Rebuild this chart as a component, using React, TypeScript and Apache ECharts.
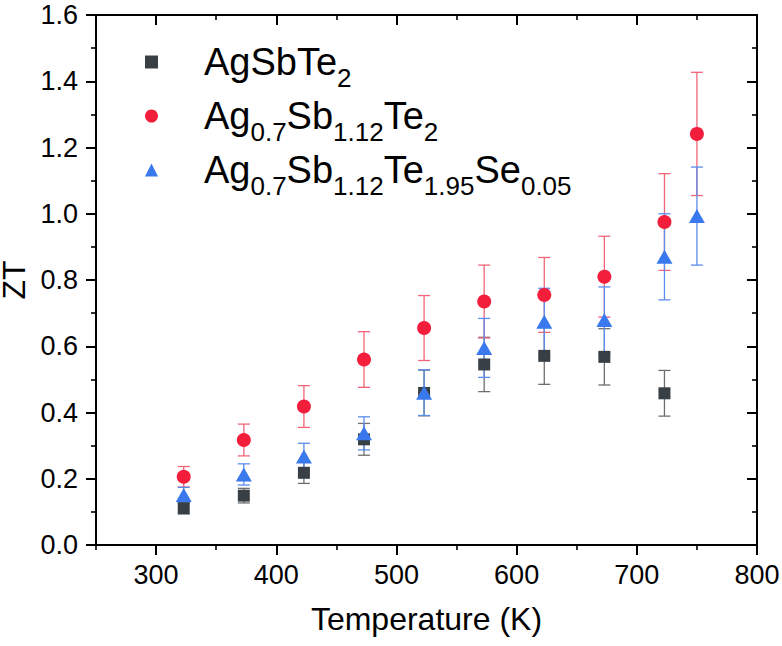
import React, { useEffect, useRef } from 'react';
import * as echarts from 'echarts';

// ---- data ----
const temperatures = [323, 373, 423, 473, 523, 573, 623, 673, 723, 750];

const ztAgSbTe2 = [0.111, 0.149, 0.218, 0.319, 0.459, 0.545, 0.571, 0.568, 0.458];
const errAgSbTe2 = [0.017, 0.022, 0.032, 0.048, 0.069, 0.082, 0.086, 0.085, 0.069];

const ztAg07Sb112Te2 = [0.206, 0.317, 0.418, 0.56, 0.655, 0.735, 0.755, 0.81, 0.975, 1.241];
const errAg07Sb112Te2 = [0.031, 0.048, 0.063, 0.084, 0.098, 0.11, 0.113, 0.122, 0.146, 0.186];

const ztAg07Sb112Te195Se005 = [0.151, 0.213, 0.267, 0.337, 0.46, 0.595, 0.674, 0.679, 0.87, 0.993];
const errAg07Sb112Te195Se005 = [0.023, 0.032, 0.04, 0.05, 0.069, 0.089, 0.101, 0.1, 0.13, 0.148];

const xMajorTicks = [300, 400, 500, 600, 700, 800];
const xMinorTicks = [250, 350, 450, 550, 650, 750];

const seriesNames = ['AgSbTe2', 'Ag0.7Sb1.12Te2', 'Ag0.7Sb1.12Te1.95Se0.05'];
const legendRich: Record<string, string> = {
  'AgSbTe2': '{m|AgSbTe}{s|2}',
  'Ag0.7Sb1.12Te2': '{m|Ag}{s|0.7}{m|Sb}{s|1.12}{m|Te}{s|2}',
  'Ag0.7Sb1.12Te1.95Se0.05': '{m|Ag}{s|0.7}{m|Sb}{s|1.12}{m|Te}{s|1.95}{m|Se}{s|0.05}',
};

const FONT = '"Liberation Sans", Arial, Helvetica, sans-serif';

function pairs(values: number[]) {
  return values.map((v, i) => [temperatures[i], v]);
}
function errRows(values: number[], errs: number[]) {
  return values.map((v, i) => [temperatures[i], v - errs[i], v + errs[i]]);
}

function errorSeries(name: string, values: number[], errs: number[], color: string) {
  return {
    type: 'custom',
    name,
    xAxisIndex: 0,
    yAxisIndex: 0,
    silent: true,
    encode: { x: 0, y: [1, 2] },
    data: errRows(values, errs),
    renderItem: (params: any, api: any) => {
      const x = api.value(0);
      const lo = api.coord([x, api.value(1)]);
      const hi = api.coord([x, api.value(2)]);
      const hw = 6;
      const style = { stroke: color, lineWidth: 1.3, fill: 'none' };
      return {
        type: 'group',
        children: [
          { type: 'line', shape: { x1: lo[0], y1: lo[1], x2: hi[0], y2: hi[1] }, style },
          { type: 'line', shape: { x1: lo[0] - hw, y1: lo[1], x2: lo[0] + hw, y2: lo[1] }, style },
          { type: 'line', shape: { x1: hi[0] - hw, y1: hi[1], x2: hi[0] + hw, y2: hi[1] }, style },
        ],
      };
    },
  };
}

export default function App() {
  const ref = useRef<HTMLDivElement>(null);

  useEffect(() => {
    if (!ref.current) return;
    const chart = echarts.init(ref.current, undefined, { renderer: 'svg' });

    const axisLine = { show: true, onZero: false, lineStyle: { color: '#000', width: 2 } };
    const majorTickStyle = { color: '#000', width: 2 };
    const minorTickStyle = { color: '#000', width: 1.6 };

    const option: any = {
      animation: false,
      backgroundColor: '#fff',
      grid: { left: 96, right: 25, top: 15, bottom: 101, containLabel: false, outerBoundsMode: 'none' },
      legend: {
        orient: 'vertical',
        left: 145,
        top: 33,
        padding: 0,
        itemGap: -4,
        itemWidth: 13,
        itemHeight: 13,
        selectedMode: false,
        data: [
          { name: seriesNames[0], icon: 'rect' },
          { name: seriesNames[1], icon: 'circle' },
          { name: seriesNames[2], icon: 'triangle' },
        ],
        formatter: (name: string) => legendRich[name],
        textStyle: {
          padding: [0, 0, 0, 41],
          rich: {
            m: { fontFamily: FONT, fontSize: 38, lineHeight: 54, color: '#000' },
            s: { fontFamily: FONT, fontSize: 26, lineHeight: 54, color: '#000', padding: [32, 0, 0, 0] },
          },
        },
      },
      xAxis: [
        {
          type: 'value', position: 'bottom', min: 250, max: 800,
          name: 'Temperature (K)', nameLocation: 'middle', nameGap: 58,
          nameTextStyle: { fontFamily: FONT, fontSize: 32, color: '#000' },
          axisLine,
          axisTick: { show: true, length: 10, lineStyle: majorTickStyle, customValues: xMajorTicks },
          axisLabel: { show: true, margin: 16, fontFamily: FONT, fontSize: 27, color: '#000', customValues: xMajorTicks },
          splitLine: { show: false },
        },
        {
          type: 'value', position: 'bottom', min: 250, max: 800,
          axisLine: { show: false, onZero: false },
          axisTick: { show: true, length: 5, lineStyle: minorTickStyle, customValues: xMinorTicks },
          axisLabel: { show: false },
          splitLine: { show: false },
        },
        {
          type: 'value', position: 'top', min: 250, max: 800,
          axisLine,
          axisTick: { show: true, inside: true, length: 10, lineStyle: majorTickStyle, customValues: xMajorTicks },
          axisLabel: { show: false },
          splitLine: { show: false },
        },
        {
          type: 'value', position: 'top', min: 250, max: 800,
          axisLine: { show: false, onZero: false },
          axisTick: { show: true, inside: true, length: 5, lineStyle: minorTickStyle, customValues: xMinorTicks },
          axisLabel: { show: false },
          splitLine: { show: false },
        },
      ],
      yAxis: [
        {
          type: 'value', position: 'left', min: 0, max: 1.6, interval: 0.2,
          name: 'ZT', nameLocation: 'middle', nameGap: 59,
          nameTextStyle: { fontFamily: FONT, fontSize: 32, color: '#000' },
          axisLine,
          axisTick: { show: true, length: 10, lineStyle: majorTickStyle },
          minorTick: { show: true, splitNumber: 2, length: 5, lineStyle: minorTickStyle },
          axisLabel: { show: true, margin: 18, fontFamily: FONT, fontSize: 27, color: '#000', formatter: (v: number) => v.toFixed(1) },
          splitLine: { show: false },
          minorSplitLine: { show: false },
        },
        {
          type: 'value', position: 'right', min: 0, max: 1.6, interval: 0.2,
          axisLine,
          axisTick: { show: true, inside: true, length: 10, lineStyle: majorTickStyle },
          minorTick: { show: true, splitNumber: 2, length: 5, lineStyle: minorTickStyle },
          axisLabel: { show: false },
          splitLine: { show: false },
          minorSplitLine: { show: false },
        },
      ],
      series: [
        errorSeries('err1', ztAgSbTe2, errAgSbTe2, '#6e6e6e'),
        {
          type: 'scatter', name: seriesNames[0], symbol: 'rect', symbolSize: 12,
          itemStyle: { color: '#394045', opacity: 1 },
          data: pairs(ztAgSbTe2),
        },
        errorSeries('err2', ztAg07Sb112Te2, errAg07Sb112Te2, '#f26577'),
        {
          type: 'scatter', name: seriesNames[1], symbol: 'circle', symbolSize: 14,
          itemStyle: { color: '#f31d3c', opacity: 1 },
          data: pairs(ztAg07Sb112Te2),
        },
        errorSeries('err3', ztAg07Sb112Te195Se005, errAg07Sb112Te195Se005, '#5b8ded'),
        {
          type: 'scatter', name: seriesNames[2], symbol: 'triangle', symbolSize: [16, 14],
          itemStyle: { color: '#3a78ee', opacity: 1 },
          data: pairs(ztAg07Sb112Te195Se005),
        },
      ],
    };

    chart.setOption(option);
    return () => chart.dispose();
  }, []);

  return (
    <div
      ref={ref}
      style={{ position: 'fixed', left: 0, top: 0, width: 782, height: 646, background: '#fff' }}
    />
  );
}
